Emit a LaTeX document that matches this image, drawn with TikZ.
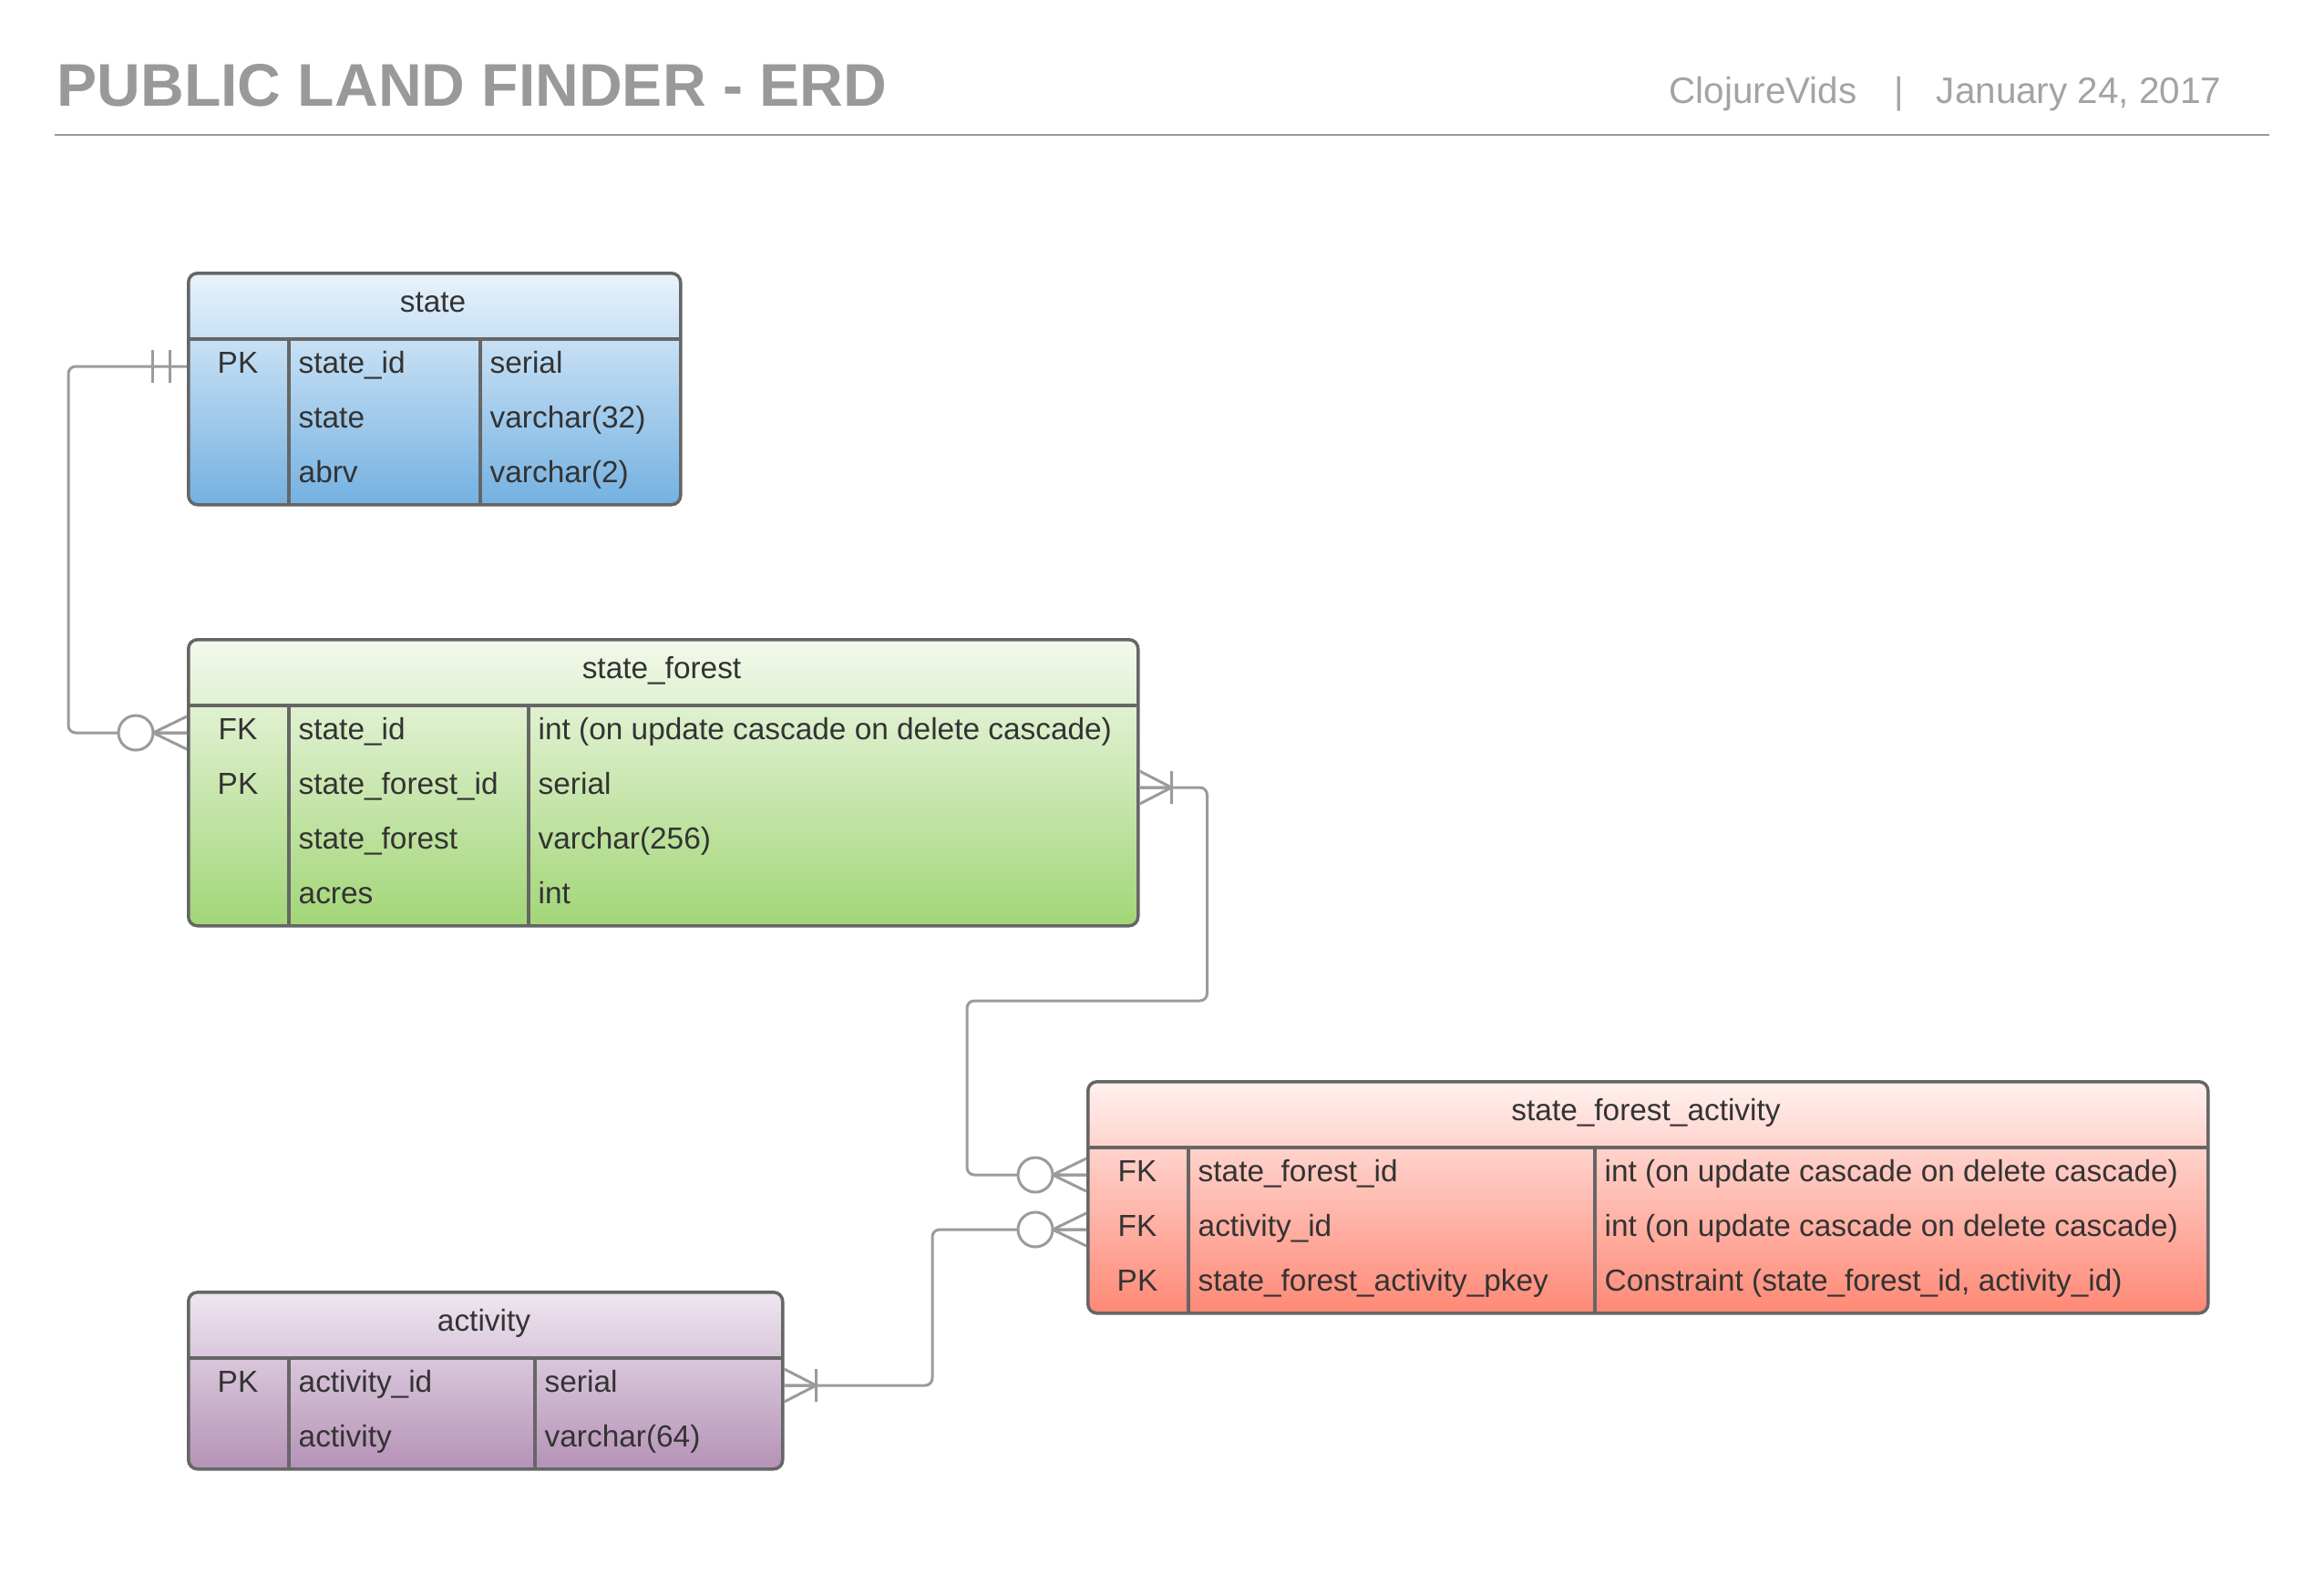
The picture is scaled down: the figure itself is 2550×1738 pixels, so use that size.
\documentclass[tikz,border=0pt]{standalone}
\usepackage{fontspec}
\setmainfont{Liberation Sans}
\usepackage{xcolor}
\usepackage{tikz}

\definecolor{txtdark}{HTML}{333333}
\definecolor{boxline}{HTML}{666666}
\definecolor{relgray}{HTML}{9B9B9B}
\definecolor{headgray}{HTML}{999999}
\definecolor{stateTop}{HTML}{E9F3FC}
\definecolor{stateBot}{HTML}{74B1E1}
\definecolor{forestTop}{HTML}{F3F9EC}
\definecolor{forestBot}{HTML}{A2D677}
\definecolor{linkTop}{HTML}{FFF1EF}
\definecolor{linkBot}{HTML}{FF8875}
\definecolor{activityTop}{HTML}{EFE6F0}
\definecolor{activityBot}{HTML}{B592B7}

\begin{document}
\begin{tikzpicture}[x=0.1mm, y=-0.1mm,
    tablebox/.style={draw=boxline, line width=0.35mm, rounded corners=1mm, anchor=north west,
                     inner sep=0pt, minimum width=#1},
    tableline/.style={draw=boxline, line width=0.33mm},
    cell/.style={inner sep=0pt, anchor=west, text height=2.3mm, text depth=0.9mm,
                 font=\fontsize{9.5}{11}\selectfont, text=txtdark},
    keycell/.style={cell, anchor=center},
    relline/.style={draw=relgray, line width=0.3mm},
    titletext/.style={font=\fontsize{18.8}{22}\selectfont\bfseries, text=headgray, inner sep=0pt},
    subtext/.style={font=\fontsize{11.5}{14}\selectfont, text=headgray!90, inner sep=0pt},
    zeromany/.pic={
        \draw[relline] (-37,0) -- (0,-18) (-37,0) -- (0,0) (-37,0) -- (0,18);
        \draw[relline, fill=white] (-56,0) circle[radius=1.9mm];
    },
    onemany/.pic={
        \draw[relline] (0,-18) -- (35,0) -- (0,18) (0,0) -- (35,0) (35,-18) -- (35,18);
    },
    oneone/.pic={
        \draw[relline] (-38,-18) -- (-38,18) (-19,-18) -- (-19,18);
    }
]
    \useasboundingbox (0,0) rectangle (2550,1738);

    % Heading
    \node[titletext, anchor=base west] (title) at (62,116) {PUBLIC LAND FINDER - ERD};
    \node[subtext, anchor=base east] (byline) at (2438,113) {ClojureVids\hspace{1em}|\hspace{0.9em}January 24, 2017};
    \draw[draw=headgray, line width=0.27mm] (60,148) -- (2490,148);

    % Table: state
    \node[tablebox=54mm, minimum height=25.4mm, top color=stateTop, bottom color=stateBot] (state) at (205,298) {};
    \draw[tableline] (205,372) -- (745,372) (317,372) -- (317,552) (527,372) -- (527,552);
    \node[keycell] (state-head) at (475,335) {state};
    \node[keycell] (state-pk) at (261,402) {PK};
    \node[cell] (state-id) at (327,402) {state\_id};
    \node[cell] (state-name) at (327,462) {state};
    \node[cell] (state-abrv) at (327,522) {abrv};
    \node[cell] (state-id-t) at (537,402) {serial};
    \node[cell] (state-name-t) at (537,462) {varchar(32)};
    \node[cell] (state-abrv-t) at (537,522) {varchar(2)};

    % Table: state_forest
    \node[tablebox=104.2mm, minimum height=31.4mm, top color=forestTop, bottom color=forestBot] (sf) at (205,700) {};
    \draw[tableline] (205,774) -- (1247,774) (317,774) -- (317,1014) (580,774) -- (580,1014);
    \node[keycell] (sf-head) at (726,737) {state\_forest};
    \node[keycell] (sf-fk) at (261,804) {FK};
    \node[keycell] (sf-pk) at (261,864) {PK};
    \node[cell] (sf-state) at (327,804) {state\_id};
    \node[cell] (sf-id) at (327,864) {state\_forest\_id};
    \node[cell] (sf-name) at (327,924) {state\_forest};
    \node[cell] (sf-acres) at (327,984) {acres};
    \node[cell] (sf-state-t) at (590,804) {int (on update cascade on delete cascade)};
    \node[cell] (sf-id-t) at (590,864) {serial};
    \node[cell] (sf-name-t) at (590,924) {varchar(256)};
    \node[cell] (sf-acres-t) at (590,984) {int};

    % Table: state_forest_activity
    \node[tablebox=122.9mm, minimum height=25.4mm, top color=linkTop, bottom color=linkBot] (sfa) at (1192,1185) {};
    \draw[tableline] (1192,1259) -- (2421,1259) (1304,1259) -- (1304,1439) (1750,1259) -- (1750,1439);
    \node[keycell] (sfa-head) at (1806,1222) {state\_forest\_activity};
    \node[keycell] (sfa-fk1) at (1248,1289) {FK};
    \node[keycell] (sfa-fk2) at (1248,1349) {FK};
    \node[keycell] (sfa-pk) at (1248,1409) {PK};
    \node[cell] (sfa-forest) at (1314,1289) {state\_forest\_id};
    \node[cell] (sfa-act) at (1314,1349) {activity\_id};
    \node[cell] (sfa-key) at (1314,1409) {state\_forest\_activity\_pkey};
    \node[cell] (sfa-forest-t) at (1760,1289) {int (on update cascade on delete cascade)};
    \node[cell] (sfa-act-t) at (1760,1349) {int (on update cascade on delete cascade)};
    \node[cell] (sfa-key-t) at (1760,1409) {Constraint (state\_forest\_id, activity\_id)};

    % Table: activity
    \node[tablebox=65.2mm, minimum height=19.4mm, top color=activityTop, bottom color=activityBot] (act) at (205,1416) {};
    \draw[tableline] (205,1490) -- (857,1490) (317,1490) -- (317,1610) (587,1490) -- (587,1610);
    \node[keycell] (act-head) at (531,1453) {activity};
    \node[keycell] (act-pk) at (261,1520) {PK};
    \node[cell] (act-id) at (327,1520) {activity\_id};
    \node[cell] (act-name) at (327,1580) {activity};
    \node[cell] (act-id-t) at (597,1520) {serial};
    \node[cell] (act-name-t) at (597,1580) {varchar(64)};

    % Relations
    \draw[relline, rounded corners=0.8mm] (state.west |- state-pk) -- ++(-130,0) |- (sf.west |- sf-fk);
    \draw[relline, rounded corners=0.8mm] (sf.east |- sf-pk) -- ++(74,0) -- ++(0,234)
        -| ([xshift=-13.1mm]sfa.west |- sfa-fk1) -- (sfa.west |- sfa-fk1);
    \draw[relline, rounded corners=0.8mm] (act.east |- act-pk) -| ([xshift=-16.9mm]sfa.west |- sfa-fk2)
        -- (sfa.west |- sfa-fk2);

    % Cardinality marks
    \pic at (state.west |- state-pk) {oneone};
    \pic at (sf.west |- sf-fk) {zeromany};
    \pic at (sf.east |- sf-pk) {onemany};
    \pic at (sfa.west |- sfa-fk1) {zeromany};
    \pic at (sfa.west |- sfa-fk2) {zeromany};
    \pic at (act.east |- act-pk) {onemany};
\end{tikzpicture}
\end{document}
